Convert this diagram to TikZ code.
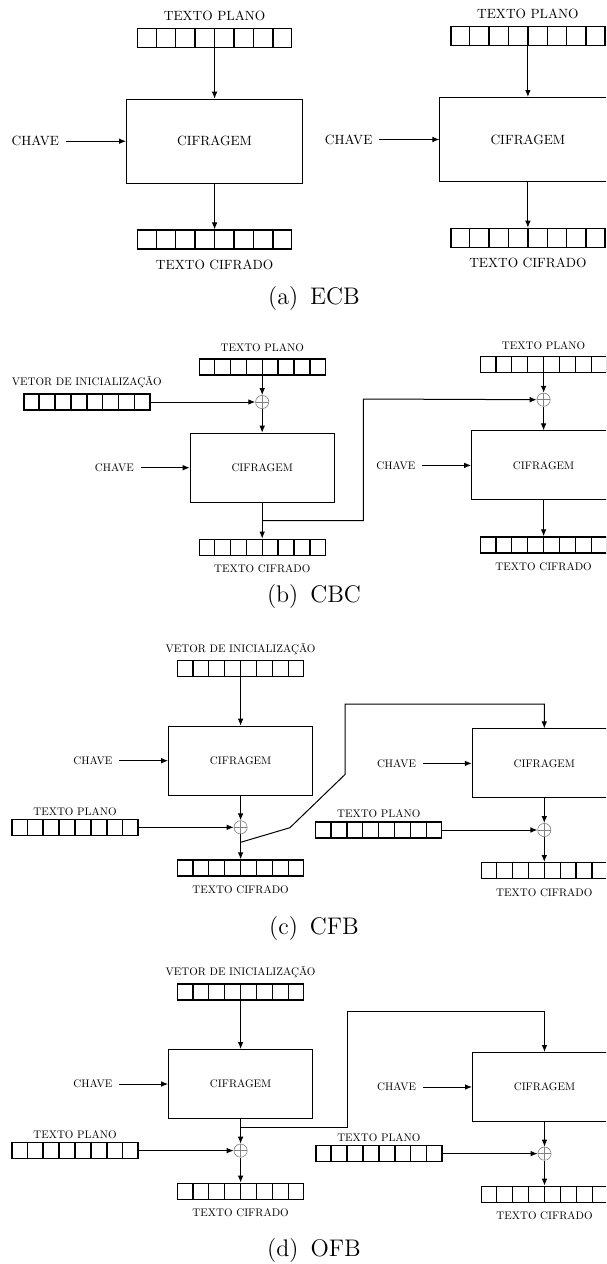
\documentclass[tikz,border=0pt]{standalone}
\usepackage{fontspec}
\usetikzlibrary{arrows.meta,positioning,calc}
\newfontfamily\lmdez{lmroman10-regular.otf}

% divisorias das 8 celulas de um registo
\newcommand{\celulas}[1]{%
  \foreach \k in {1,...,7}
    \draw[regline] ($(#1.south west)!{\k/8}!(#1.south east)$) -- ($(#1.north west)!{\k/8}!(#1.north east)$);%
}

\begin{document}
\begin{tikzpicture}[x=0.5pt,y=-0.5pt,
  regA/.style={draw,line width=0.7pt,minimum width=77pt,minimum height=9.5pt,inner sep=0pt},
  regB/.style={draw,line width=0.7pt,minimum width=63pt,minimum height=8pt,inner sep=0pt},
  regline/.style={line width=0.7pt},
  blocoA/.style={draw,line width=0.5pt,minimum width=88pt,minimum height=42pt,
    font=\fontsize{6.7}{7}\lmdez},
  blocoB/.style={draw,line width=0.5pt,minimum width=72pt,minimum height=34.5pt,
    font=\fontsize{5.5}{6}\lmdez},
  rotA/.style={inner sep=0pt,font=\fontsize{6.7}{7}\lmdez},
  rotB/.style={inner sep=0pt,font=\fontsize{5.5}{6}\lmdez},
  chaveA/.style={rotA,inner xsep=3.3pt},
  chaveB/.style={rotB,inner xsep=3.3pt},
  xor/.style={circle,draw=gray,line width=0.3pt,minimum size=6.6pt,inner sep=0pt,
    path picture={\draw[gray,line width=0.3pt]
      (path picture bounding box.north) -- (path picture bounding box.south)
      (path picture bounding box.west) -- (path picture bounding box.east);}},
  seta/.style={-{Latex[length=3.5pt,width=2.8pt]},line width=0.5pt},
  linha/.style={line width=0.5pt},
  legenda/.style={font=\fontsize{12}{14}\selectfont}
]
  \useasboundingbox (0,0) rectangle (606,1264);
  \clip (0,0) rectangle (606,1264);

  % (a) ECB
  \node[regA] (ecbPlano1) at (214.6,37.8) {};
  \celulas{ecbPlano1}
  \node[rotA,above=3.3pt of ecbPlano1] (ecbPlanoTxt1) {TEXTO PLANO};
  \node[blocoA] (ecbCif1) at (214.6,141.2) {CIFRAGEM};
  \node[chaveA,left=30pt of ecbCif1] (ecbChave1) {CHAVE};
  \node[regA] (ecbCifrado1) at (214.6,239.6) {};
  \celulas{ecbCifrado1}
  \node[rotA,below=4.7pt of ecbCifrado1] (ecbCifradoTxt1) {TEXTO CIFRADO};
  \draw[seta] (ecbPlano1.south) -- (ecbCif1.north);
  \draw[seta] (ecbChave1) -- (ecbCif1);
  \draw[seta] (ecbCif1.south) -- (ecbCifrado1.north);
  \begin{scope}[shift={(313.3,-1.7)}]
    \node[regA] (ecbPlano2) at (214.6,37.8) {};
    \celulas{ecbPlano2}
    \node[rotA,above=3.3pt of ecbPlano2] (ecbPlanoTxt2) {TEXTO PLANO};
    \node[blocoA] (ecbCif2) at (214.6,141.2) {CIFRAGEM};
    \node[chaveA,left=30pt of ecbCif2] (ecbChave2) {CHAVE};
    \node[regA] (ecbCifrado2) at (214.6,239.6) {};
    \celulas{ecbCifrado2}
    \node[rotA,below=4.7pt of ecbCifrado2] (ecbCifradoTxt2) {TEXTO CIFRADO};
    \draw[seta] (ecbPlano2.south) -- (ecbCif2.north);
    \draw[seta] (ecbChave2) -- (ecbCif2);
    \draw[seta] (ecbCif2.south) -- (ecbCifrado2.north);
  \end{scope}
  \node[legenda] (ecbLegenda) at (314,298.5) {(a)\enspace ECB};

  % (b) CBC
  \node[regB] (cbcPlano1) at (262.2,366.8) {};
  \celulas{cbcPlano1}
  \node[rotB,above=2.75pt of cbcPlano1] (cbcPlanoTxt1) {TEXTO PLANO};
  \node[xor] (cbcXor1) at (262.2,402) {};
  \node[regB] (cbcVetor) at (86.8,402) {};
  \celulas{cbcVetor}
  \node[rotB,above=2.75pt of cbcVetor] (cbcVetorTxt) {VETOR DE INICIALIZAÇÃO};
  \node[blocoB] (cbcCif1) at (262.2,467.7) {CIFRAGEM};
  \node[chaveB,left=24.4pt of cbcCif1] (cbcChave1) {CHAVE};
  \node[regB] (cbcCifrado1) at (262.2,547.3) {};
  \celulas{cbcCifrado1}
  \node[rotB,below=4.1pt of cbcCifrado1] (cbcCifradoTxt1) {TEXTO CIFRADO};
  \draw[seta] (cbcPlano1.south) -- (cbcXor1.north);
  \draw[seta] (cbcVetor.east) -- (cbcXor1.west);
  \draw[seta] (cbcXor1.south) -- (cbcCif1.north);
  \draw[seta] (cbcChave1) -- (cbcCif1);
  \draw[seta] (cbcCif1.south) -- (cbcCifrado1.north);
  \begin{scope}[shift={(281.4,-2.3)}]
    \node[regB] (cbcPlano2) at (262.2,366.8) {};
    \celulas{cbcPlano2}
    \node[rotB,above=2.75pt of cbcPlano2] (cbcPlanoTxt2) {TEXTO PLANO};
    \node[xor] (cbcXor2) at (262.2,402) {};
    \node[blocoB] (cbcCif2) at (262.2,467.7) {CIFRAGEM};
    \node[chaveB,left=24.4pt of cbcCif2] (cbcChave2) {CHAVE};
    \node[regB] (cbcCifrado2) at (262.2,547.3) {};
    \celulas{cbcCifrado2}
    \node[rotB,below=4.1pt of cbcCifrado2] (cbcCifradoTxt2) {TEXTO CIFRADO};
    \draw[seta] (cbcPlano2.south) -- (cbcXor2.north);
    \draw[seta] (cbcXor2.south) -- (cbcCif2.north);
    \draw[seta] (cbcChave2) -- (cbcCif2);
    \draw[seta] (cbcCif2.south) -- (cbcCifrado2.north);
  \end{scope}
  \coordinate (cbcRamo) at (262.2,520.7);
  \coordinate (cbcCanto) at (363.4,399);
  \draw[seta] (cbcRamo) -| (cbcCanto) -- (cbcXor2.west);
  \node[legenda] (cbcLegenda) at (314,596.7) {(b)\enspace CBC};

  % (c) CFB
  \node[regB] (cfbVetor) at (240.6,668.7) {};
  \celulas{cfbVetor}
  \node[rotB,above=2.6pt of cfbVetor] (cfbVetorTxt) {VETOR DE INICIALIZAÇÃO};
  \node[blocoB] (cfbCif1) at (240.6,760.7) {CIFRAGEM};
  \node[chaveB,left=24.4pt of cfbCif1] (cfbChave1) {CHAVE};
  \node[xor] (cfbXor1) at (240.6,827.3) {};
  \node[regB] (cfbPlano1) at (75,827.3) {};
  \celulas{cfbPlano1}
  \node[rotB,above=1.4pt of cfbPlano1] (cfbPlanoTxt1) {TEXTO PLANO};
  \node[regB] (cfbCifrado1) at (240.6,868) {};
  \celulas{cfbCifrado1}
  \node[rotB,below=4.2pt of cfbCifrado1] (cfbCifradoTxt1) {TEXTO CIFRADO};
  \draw[seta] (cfbVetor.south) -- (cfbCif1.north);
  \draw[seta] (cfbChave1) -- (cfbCif1);
  \draw[seta] (cfbCif1.south) -- (cfbXor1.north);
  \draw[seta] (cfbPlano1.east) -- (cfbXor1.west);
  \draw[seta] (cfbXor1.south) -- (cfbCifrado1.north);
  \begin{scope}[shift={(303.7,2.7)}]
    \node[blocoB] (cfbCif2) at (240.6,760.7) {CIFRAGEM};
    \node[chaveB,left=24.4pt of cfbCif2] (cfbChave2) {CHAVE};
    \node[xor] (cfbXor2) at (240.6,827.3) {};
    \node[regB] (cfbPlano2) at (75,827.3) {};
    \celulas{cfbPlano2}
    \node[rotB,above=1.4pt of cfbPlano2] (cfbPlanoTxt2) {TEXTO PLANO};
    \node[regB] (cfbCifrado2) at (240.6,868) {};
    \celulas{cfbCifrado2}
    \node[rotB,below=4.2pt of cfbCifrado2] (cfbCifradoTxt2) {TEXTO CIFRADO};
    \draw[seta] (cfbChave2) -- (cfbCif2);
    \draw[seta] (cfbCif2.south) -- (cfbXor2.north);
    \draw[seta] (cfbPlano2.east) -- (cfbXor2.west);
    \draw[seta] (cfbXor2.south) -- (cfbCifrado2.north);
  \end{scope}
  \coordinate (cfbRamo) at (240.6,842.3);
  \coordinate (cfbDobra1) at (289.9,827.7);
  \coordinate (cfbDobra2) at (345.2,774.3);
  \coordinate (cfbCanto) at (345.2,704);
  \draw[seta] (cfbRamo) -- (cfbDobra1) -- (cfbDobra2) -- (cfbCanto) -| (cfbCif2.north);
  \node[legenda] (cfbLegenda) at (314,928.3) {(c)\enspace CFB};

  % (d) OFB
  \begin{scope}[shift={(0,323.3)}]
    \node[regB] (ofbVetor) at (240.6,668.7) {};
    \celulas{ofbVetor}
    \node[rotB,above=2.6pt of ofbVetor] (ofbVetorTxt) {VETOR DE INICIALIZAÇÃO};
    \node[blocoB] (ofbCif1) at (240.6,760.7) {CIFRAGEM};
    \node[chaveB,left=24.4pt of ofbCif1] (ofbChave1) {CHAVE};
    \node[xor] (ofbXor1) at (240.6,827.3) {};
    \node[regB] (ofbPlano1) at (75,827.3) {};
    \celulas{ofbPlano1}
    \node[rotB,above=1.4pt of ofbPlano1] (ofbPlanoTxt1) {TEXTO PLANO};
    \node[regB] (ofbCifrado1) at (240.6,868) {};
    \celulas{ofbCifrado1}
    \node[rotB,below=4.2pt of ofbCifrado1] (ofbCifradoTxt1) {TEXTO CIFRADO};
    \draw[seta] (ofbVetor.south) -- (ofbCif1.north);
    \draw[seta] (ofbChave1) -- (ofbCif1);
    \draw[seta] (ofbCif1.south) -- (ofbXor1.north);
    \draw[seta] (ofbPlano1.east) -- (ofbXor1.west);
    \draw[seta] (ofbXor1.south) -- (ofbCifrado1.north);
    \coordinate (ofbRamo) at (240.6,804.4);
    \coordinate (ofbCanto) at (347.9,687.7);
    \node[legenda] (ofbLegenda) at (314,926.7) {(d)\enspace OFB};
  \end{scope}
  \begin{scope}[shift={(303.9,326.3)}]
    \node[blocoB] (ofbCif2) at (240.6,760.7) {CIFRAGEM};
    \node[chaveB,left=24.4pt of ofbCif2] (ofbChave2) {CHAVE};
    \node[xor] (ofbXor2) at (240.6,827.3) {};
    \node[regB] (ofbPlano2) at (75,827.3) {};
    \celulas{ofbPlano2}
    \node[rotB,above=1.4pt of ofbPlano2] (ofbPlanoTxt2) {TEXTO PLANO};
    \node[regB] (ofbCifrado2) at (240.6,868) {};
    \celulas{ofbCifrado2}
    \node[rotB,below=4.2pt of ofbCifrado2] (ofbCifradoTxt2) {TEXTO CIFRADO};
    \draw[seta] (ofbChave2) -- (ofbCif2);
    \draw[seta] (ofbCif2.south) -- (ofbXor2.north);
    \draw[seta] (ofbPlano2.east) -- (ofbXor2.west);
    \draw[seta] (ofbXor2.south) -- (ofbCifrado2.north);
  \end{scope}
  \draw[seta] (ofbRamo) -| (ofbCanto) -| (ofbCif2.north);
\end{tikzpicture}
\end{document}
